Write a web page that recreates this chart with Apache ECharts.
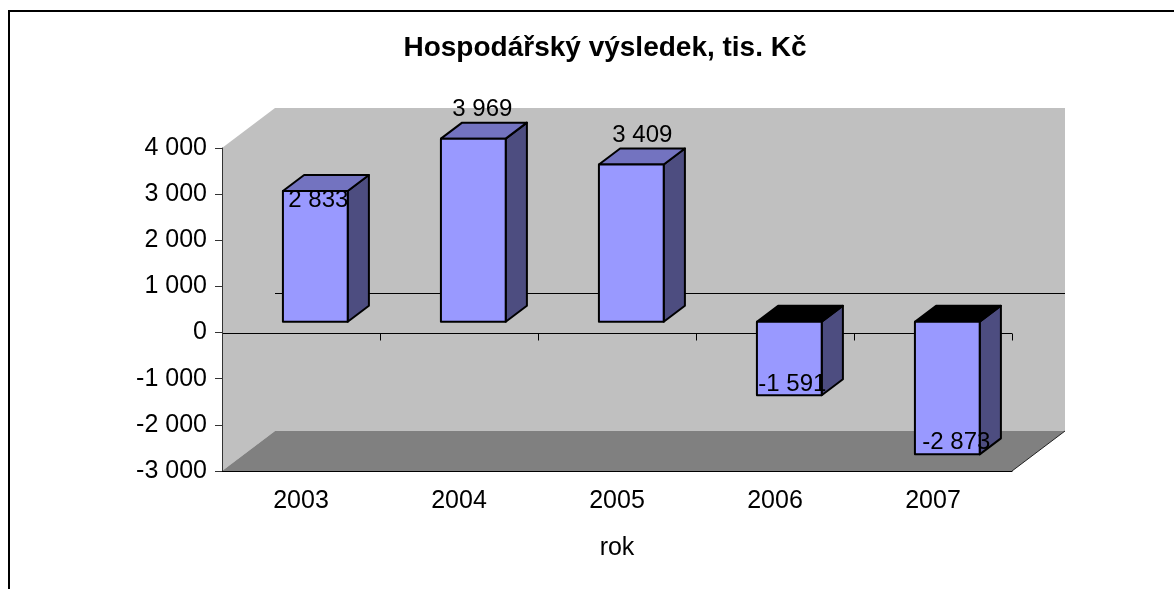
<!DOCTYPE html>
<html>
<head>
<meta charset="utf-8">
<script src="https://cdn.jsdelivr.net/npm/echarts@6/dist/echarts.min.js"></script>
<style>
html, body { margin: 0; padding: 0; background: #fff; }
#chart { width: 1174px; height: 589px; }
</style>
</head>
<body>
<div id="chart"></div>
<script>
// data
var years = ['2003', '2004', '2005', '2006', '2007'];
var result = [2833, 3969, 3409, -1591, -2873];
var yMin = -3000, yMax = 4000, yStep = 1000;

// 3D look
var depth = [53, -40];     // posun zadni steny
var barShift = 0.27;       // kde v hloubce sloupec zacina
var barDepth = 0.4;        // hloubka sloupce
var barWidth = 0.41;       // sirka sloupce vuci kategorii
var labelNudge = [[3, 9], [9, -29], [11, -29], [3, -11], [9, -12]];

function fmt(v) {
	return String(v).replace(/\B(?=(\d{3})+(?!\d))/g, ' ');
}
function px(v) {
	return Math.round(v) + 0.5;
}

function renderFrame(params, api) {
	var cs = params.coordSys;
	var l = cs.x, r = cs.x + cs.width, t = cs.y, b = cs.y + cs.height;
	var dx = depth[0], dy = depth[1];
	var y0 = px(api.coord([0, 0])[1]);
	var band = api.size([1, 0])[0];
	var kids = [
		{ type: 'polygon', shape: { points: [[l, t], [l + dx, t + dy], [r + dx, t + dy], [r + dx, b + dy], [l + dx, b + dy], [l, b]] },
			style: { fill: '#c0c0c0' } },
		{ type: 'polygon', shape: { points: [[l, b], [l + dx, b + dy], [r + dx, b + dy], [r, b]] },
			style: { fill: '#808080' } },
		{ type: 'line', shape: { x1: l + dx, y1: y0 + dy, x2: r + dx, y2: y0 + dy }, style: { stroke: '#000', lineWidth: 1 } },
		{ type: 'line', shape: { x1: l, y1: y0, x2: r, y2: y0 }, style: { stroke: '#000', lineWidth: 1 } },
		{ type: 'line', shape: { x1: r, y1: b, x2: r + dx, y2: b + dy }, style: { stroke: '#222', lineWidth: 1 } }
	];
	for (var i = 0; i <= years.length; i++) {
		var x = px(l + i * band);
		kids.push({ type: 'line', shape: { x1: x, y1: y0, x2: x, y2: y0 + 7 }, style: { stroke: '#000', lineWidth: 1 } });
	}
	return { type: 'group', children: kids };
}

function renderBar(params, api) {
	var i = api.value(0), v = api.value(1);
	var band = api.size([1, 0])[0];
	var c0 = api.coord([i, 0]), c1 = api.coord([i, v]);
	var w = band * barWidth;
	var sx = depth[0] * barShift, sy = depth[1] * barShift;
	var bx = depth[0] * barDepth, by = depth[1] * barDepth;
	var x1 = c0[0] - w / 2 + sx, x2 = x1 + w;
	var yz = c0[1] + sy, yv = c1[1] + sy;
	var yt = Math.min(yz, yv), yb = Math.max(yz, yv);
	var edge = { stroke: '#000', lineWidth: 2, lineJoin: 'round' };
	var nudge = labelNudge[params.dataIndex];
	var ly = (v >= 0 ? yt : yb) + nudge[1];
	return {
		type: 'group',
		children: [
			{ type: 'polygon', shape: { points: [[x2, yt], [x2 + bx, yt + by], [x2 + bx, yb + by], [x2, yb]] },
				style: Object.assign({ fill: '#4d4d80' }, edge) },
			{ type: 'polygon', shape: { points: [[x1, yt], [x1 + bx, yt + by], [x2 + bx, yt + by], [x2, yt]] },
				style: Object.assign({ fill: v >= 0 ? '#7373c0' : '#000' }, edge) },
			{ type: 'rect', shape: { x: x1, y: yt, width: w, height: yb - yt },
				style: Object.assign({ fill: '#9999ff' }, edge) },
			{ type: 'text', x: (x1 + x2) / 2 + nudge[0], y: ly,
				style: { text: fmt(v), fill: '#000', font: '24px "Liberation Sans"', align: 'center', verticalAlign: 'middle' } }
		]
	};
}

var myChart = echarts.init(document.getElementById('chart'));
var axisFont = { fontFamily: 'Liberation Sans', fontSize: 25, color: '#000' };

var option = {
	backgroundColor: '#fff',
	animation: false,
	title: {
		text: 'Hospodářský výsledek, tis. Kč',
		left: 600,
		textAlign: 'center',
		top: 29,
		textStyle: { fontFamily: 'Liberation Sans', fontWeight: 'bold', fontSize: 28, color: '#000' }
	},
	graphic: [{
		type: 'rect', z: -10,
		shape: { x: 9, y: 11, width: 1200, height: 620 },
		style: { fill: 'none', stroke: '#000', lineWidth: 2 }
	}],
	grid: { left: 222, right: 162, top: 148, bottom: 118 },
	xAxis: {
		type: 'category',
		data: years,
		z: 10,
		name: 'rok',
		nameLocation: 'middle',
		nameGap: 65,
		nameTextStyle: axisFont,
		axisLine: { onZero: false, lineStyle: { color: '#000', width: 1 } },
		axisTick: { length: 7, lineStyle: { color: '#000' } },
		axisLabel: Object.assign({ margin: 18 }, axisFont),
		splitLine: { show: false }
	},
	yAxis: {
		type: 'value',
		min: yMin,
		max: yMax,
		interval: yStep,
		z: 10,
		axisLine: { show: true, lineStyle: { color: '#333', width: 1 } },
		axisTick: { show: true, length: 7, lineStyle: { color: '#333' } },
		axisLabel: Object.assign({ margin: 15, formatter: fmt }, axisFont),
		splitLine: { show: false }
	},
	series: [{
		type: 'custom',
		name: 'frame',
		silent: true,
		z: 1,
		renderItem: renderFrame,
		encode: { x: 0, y: 1 },
		data: [[0, 0]]
	}, {
		type: 'custom',
		name: 'Hospodářský výsledek',
		z: 3,
		renderItem: renderBar,
		encode: { x: 0, y: 1 },
		data: result.map(function(v, i) { return [i, v]; })
	}]
};

myChart.setOption(option);
window.addEventListener('resize', function() {
	myChart.resize();
});
</script>
</body>
</html>
